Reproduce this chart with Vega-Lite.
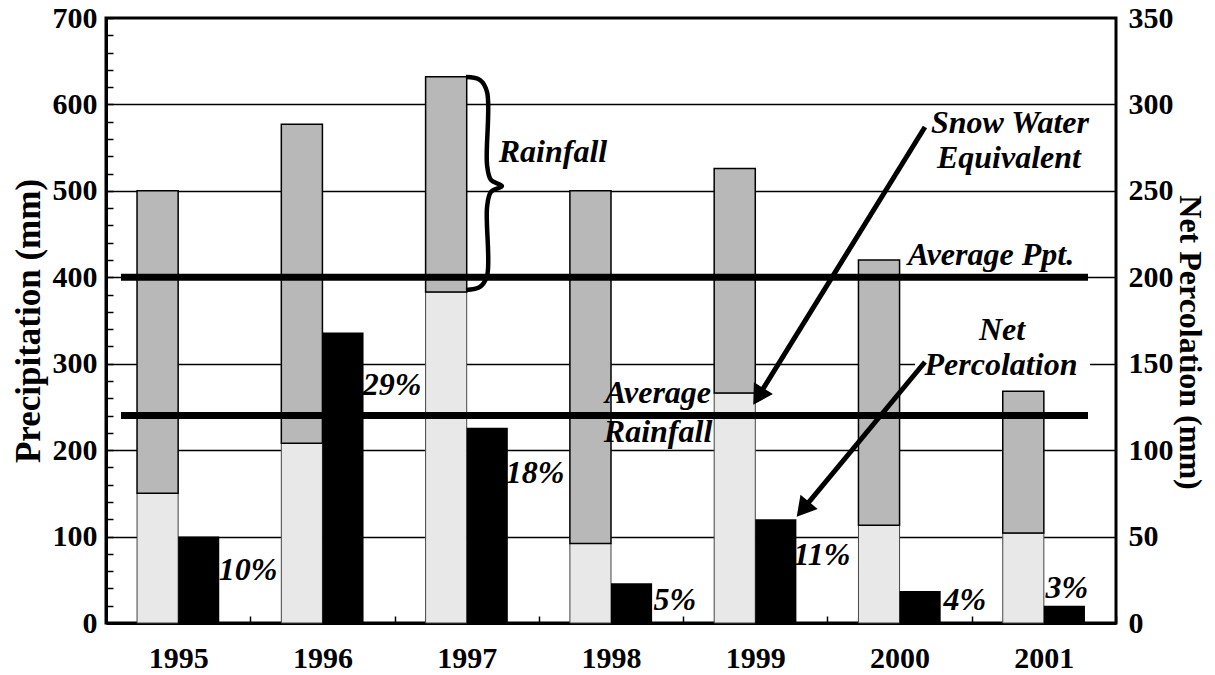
{
"$schema":"https://vega.github.io/schema/vega-lite/v6.json",
"width":1010,"height":605,"autosize":"none",
"padding":{"left":106,"top":18,"right":99,"bottom":52},
"background":"white",
"config":{
 "view":{"stroke":"black","strokeWidth":3},
 "axis":{"labelFont":"Liberation Serif","titleFont":"Liberation Serif","labelFontWeight":"bold","titleFontWeight":"bold","labelFontSize":30,"titleFontSize":32,"labelColor":"black","titleColor":"black","domainColor":"black","tickColor":"black","gridColor":"black"}
},
"datasets":{
 "main":[
  {"year":"1995","swe":150,"total":500,"perc":50},
  {"year":"1996","swe":208,"total":577,"perc":168},
  {"year":"1997","swe":383,"total":632,"perc":113},
  {"year":"1998","swe":92,"total":500,"perc":23},
  {"year":"1999","swe":266,"total":526,"perc":60},
  {"year":"2000","swe":113,"total":420,"perc":18.5},
  {"year":"2001","swe":104,"total":268,"perc":10}
 ],
 "lines":[
  {"name":"Average Ppt.","mm":400,"from":0.104,"to":6.806},
  {"name":"Average Rainfall","mm":240,"from":0.104,"to":6.806}
 ],
 "notes":[
  {"text":"10%","x":0.984,"y":61.3},
  {"text":"29%","x":1.982,"y":275},
  {"text":"18%","x":2.973,"y":173.5},
  {"text":"5%","x":3.943,"y":26.6},
  {"text":"11%","x":4.962,"y":78.7},
  {"text":"4%","x":5.953,"y":26.6},
  {"text":"3%","x":6.66,"y":40.5},
  {"text":"Rainfall","x":3.098,"y":545},
  {"text":"Snow Water","x":6.265,"y":578.5},
  {"text":"Equivalent","x":6.258,"y":538},
  {"text":"Average Ppt.","x":6.133,"y":425.8},
  {"text":"Net","x":6.21,"y":339},
  {"text":"Percolation","x":6.203,"y":298.5},
  {"text":"Average","x":3.826,"y":266},
  {"text":"Rainfall","x":3.826,"y":221}
 ],
 "brace":[
  {"i":0,"x":2.495,"y":631.7},
  {"i":1,"x":2.592,"y":628.3},
  {"i":2,"x":2.641,"y":614.4},
  {"i":3,"x":2.641,"y":529.9},
  {"i":4,"x":2.668,"y":512.6},
  {"i":5,"x":2.744,"y":505.6},
  {"i":6,"x":2.668,"y":498.7},
  {"i":7,"x":2.641,"y":481.3},
  {"i":8,"x":2.641,"y":401.5},
  {"i":9,"x":2.592,"y":388.8},
  {"i":10,"x":2.495,"y":385.3}
 ],
 "arrows":[
  {"name":"swe","x":5.676,"y":573.9,"x2":4.521,"y2":262.1},
  {"name":"perc","x":5.676,"y":302,"x2":4.83,"y2":131.5}
 ],
 "boxes":[{"x":5.607,"x2":6.82,"y":280,"y2":314.8}]
},
"layer":[
 {
  "data":{"name":"main"},
  "mark":{"type":"bar","fill":"#e8e8e8","stroke":"#444444","strokeWidth":1},
  "encoding":{
   "x":{"field":"year","type":"nominal","scale":{"paddingInner":0,"paddingOuter":0},
        "axis":{"title":null,"labelAngle":0,"tickBand":"extent","tickSize":-7,"tickWidth":1.5,"labelPadding":27,"domainWidth":3}},
   "xOffset":{"datum":"Precipitation","type":"nominal","scale":{"domain":["Precipitation","Net Percolation"],"paddingInner":0,"paddingOuter":0.755}},
   "y":{"field":"swe","type":"quantitative","scale":{"domain":[0,700],"nice":false},
        "axis":{"orient":"left","title":"Precipitation (mm)","titleFontSize":35,"values":[0,20,40,60,80,100,120,140,160,180,200,220,240,260,280,300,320,340,360,380,400,420,440,460,480,500,520,540,560,580,600,620,640,660,680,700],
                "labelExpr":"datum.value % 100 === 0 ? datum.label : ''","tickSize":-7,"tickWidth":1.5,"labelPadding":16,"domainWidth":3,
                "grid":true,"gridWidth":1.5,"gridOpacity":{"condition":{"test":"datum.value % 100 === 0 && datum.value > 0 && datum.value < 700","value":1},"value":0},
                "titlePadding":6}}
  }
 },
 {
  "data":{"name":"main"},
  "mark":{"type":"bar","fill":"#b8b8b8","stroke":"black","strokeWidth":1.5},
  "encoding":{
   "x":{"field":"year","type":"nominal","scale":{"paddingInner":0,"paddingOuter":0},"axis":null},
   "xOffset":{"datum":"Precipitation","type":"nominal","scale":{"domain":["Precipitation","Net Percolation"],"paddingInner":0,"paddingOuter":0.755}},
   "y":{"field":"total","type":"quantitative","scale":{"domain":[0,700],"nice":false},"axis":null},
   "y2":{"field":"swe"}
  }
 },
 {
  "data":{"name":"main"},
  "mark":{"type":"bar","fill":"black"},
  "encoding":{
   "x":{"field":"year","type":"nominal","scale":{"paddingInner":0,"paddingOuter":0},"axis":null},
   "xOffset":{"datum":"Net Percolation","type":"nominal","scale":{"domain":["Precipitation","Net Percolation"],"paddingInner":0,"paddingOuter":0.755}},
   "y":{"field":"perc","type":"quantitative","scale":{"domain":[0,350],"nice":false},
        "axis":{"orient":"right","title":"Net Percolation (mm)","values":[0,50,100,150,200,250,300,350],"ticks":false,"labelPadding":12,"domain":false,
                "titleAngle":90,"titleX":73,"titleY":324,"titleAlign":"center","titleBaseline":"middle"}}
  }
 },
 {
  "data":{"name":"boxes"},
  "mark":{"type":"rect","fill":"white"},
  "encoding":{
   "x":{"field":"x","type":"quantitative","scale":{"domain":[0,7],"nice":false,"zero":false},"axis":null},
   "x2":{"field":"x2"},
   "y":{"field":"y","type":"quantitative","scale":{"domain":[0,700],"nice":false},"axis":null},
   "y2":{"field":"y2"}
  }
 },
 {
  "data":{"name":"lines"},
  "mark":{"type":"rule","color":"black","strokeWidth":7,"strokeCap":"butt"},
  "encoding":{
   "x":{"field":"from","type":"quantitative","scale":{"domain":[0,7],"nice":false,"zero":false},"axis":null},
   "x2":{"field":"to"},
   "y":{"field":"mm","type":"quantitative","scale":{"domain":[0,700],"nice":false},"axis":null}
  }
 },
 {
  "data":{"name":"brace"},
  "mark":{"type":"line","color":"black","strokeWidth":4.5,"interpolate":"catmull-rom"},
  "encoding":{
   "x":{"field":"x","type":"quantitative","scale":{"domain":[0,7],"nice":false,"zero":false},"axis":null},
   "y":{"field":"y","type":"quantitative","scale":{"domain":[0,700],"nice":false},"axis":null},
   "order":{"field":"i","type":"quantitative"}
  }
 },
 {
  "data":{"name":"arrows"},
  "mark":{"type":"rule","color":"black","strokeWidth":5,"strokeCap":"butt"},
  "encoding":{
   "x":{"field":"x","type":"quantitative","scale":{"domain":[0,7],"nice":false,"zero":false},"axis":null},
   "x2":{"field":"x2"},
   "y":{"field":"y","type":"quantitative","scale":{"domain":[0,700],"nice":false},"axis":null},
   "y2":{"field":"y2"}
  }
 },
 {
  "data":{"name":"arrows"},
  "transform":[{"filter":"datum.name === 'swe'"}],
  "mark":{"type":"point","shape":"triangle-up","filled":true,"color":"black","opacity":1,"size":500,"angle":211.7},
  "encoding":{
   "x":{"field":"x2","type":"quantitative","scale":{"domain":[0,7],"nice":false,"zero":false},"axis":null},
   "y":{"field":"y2","type":"quantitative","scale":{"domain":[0,700],"nice":false},"axis":null}
  }
 },
 {
  "data":{"name":"arrows"},
  "transform":[{"filter":"datum.name === 'perc'"}],
  "mark":{"type":"point","shape":"triangle-up","filled":true,"color":"black","opacity":1,"size":500,"angle":219.7},
  "encoding":{
   "x":{"field":"x2","type":"quantitative","scale":{"domain":[0,7],"nice":false,"zero":false},"axis":null},
   "y":{"field":"y2","type":"quantitative","scale":{"domain":[0,700],"nice":false},"axis":null}
  }
 },
 {
  "data":{"name":"notes"},
  "mark":{"type":"text","font":"Liberation Serif","fontSize":32,"fontWeight":"bold","fontStyle":"italic","color":"black","align":"center","baseline":"middle"},
  "encoding":{
   "x":{"field":"x","type":"quantitative","scale":{"domain":[0,7],"nice":false,"zero":false},"axis":null},
   "y":{"field":"y","type":"quantitative","scale":{"domain":[0,700],"nice":false},"axis":null},
   "text":{"field":"text"}
  }
 }
],
"resolve":{"scale":{"x":"independent","y":"independent","xOffset":"independent"}}
}
